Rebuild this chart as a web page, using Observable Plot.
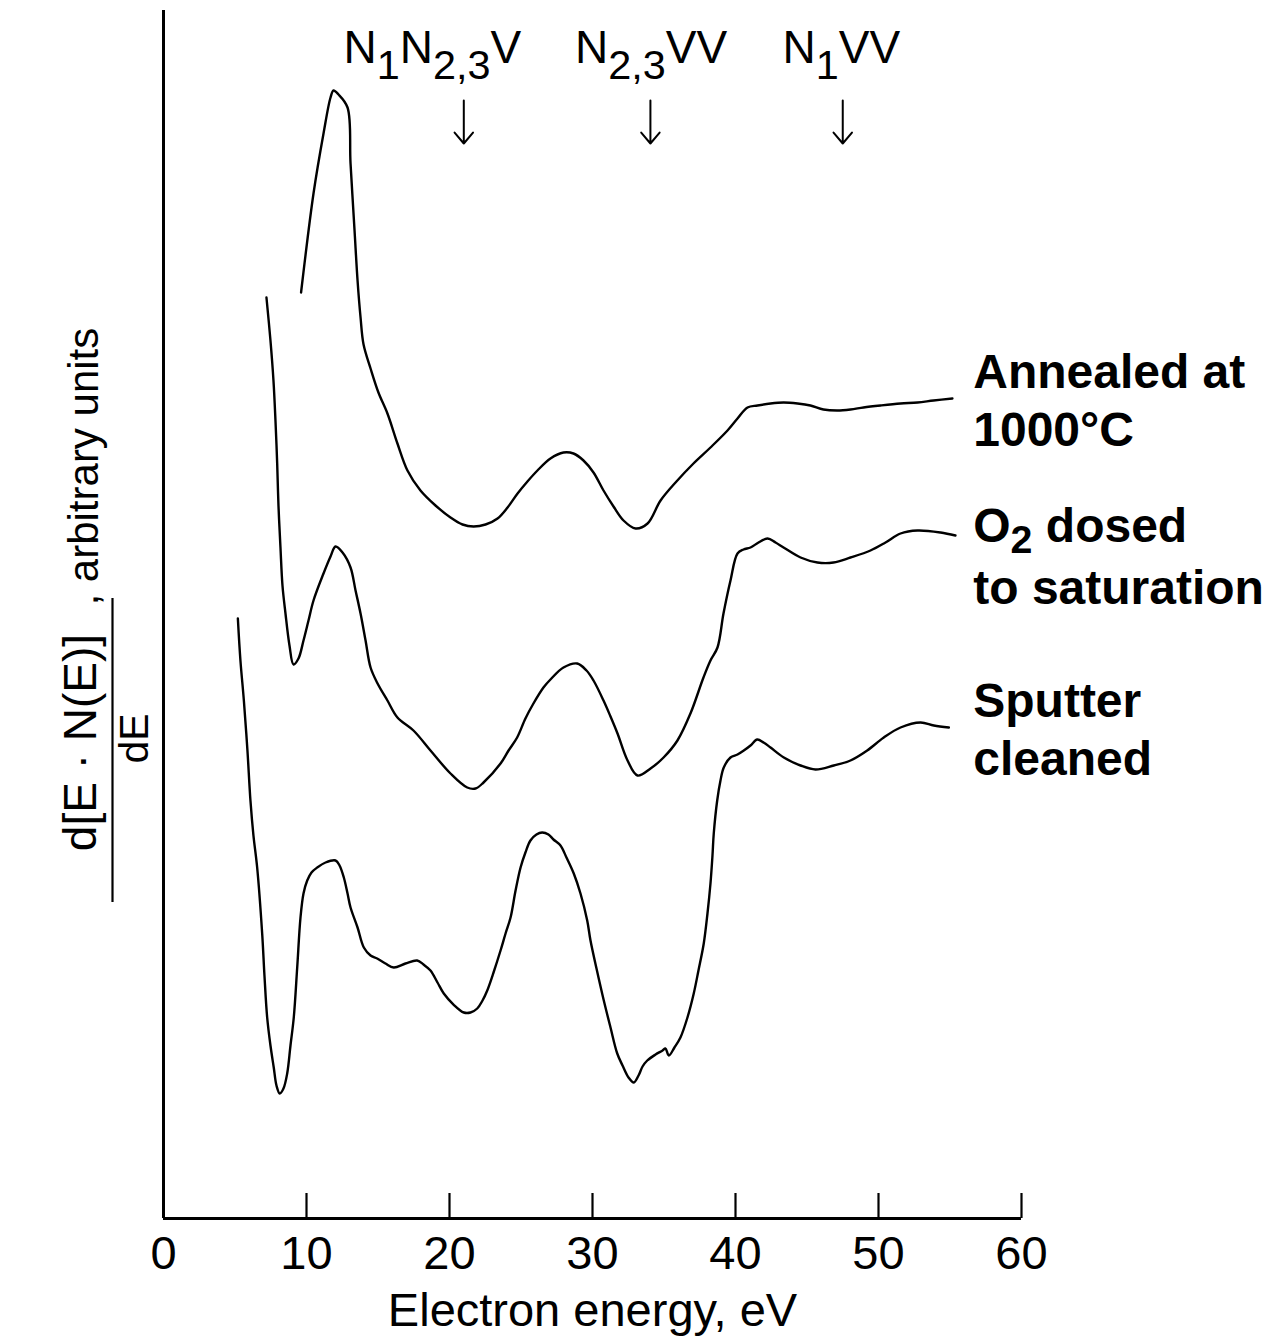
<!DOCTYPE html>
<html>
<head>
<meta charset="utf-8">
<script src="https://cdn.jsdelivr.net/npm/d3@7"></script>
<script src="https://cdn.jsdelivr.net/npm/@observablehq/plot@0.6"></script>
<style>
  html, body { margin: 0; padding: 0; background: #fff; }
  #chart svg { display: block; }
</style>
</head>
<body>
<div id="chart"></div>
<script>
// ---------- data ----------
const xTicks = [0, 10, 20, 30, 40, 50, 60];

// Annealed at 1000°C (top curve)
const annealedEnergy = [9.62, 10.49, 11.19, 11.68, 11.89, 12.24, 12.87, 13.08, 13.36, 13.57, 13.78, 13.99, 14.48, 15.03, 15.66, 16.36, 17.06, 17.97, 19.02, 20.07, 20.91, 21.68, 22.52, 23.36, 24.06, 24.76, 25.45, 26.15, 27.06, 27.97, 28.67, 29.37, 30.07, 30.77, 31.47, 32.17, 33.01, 33.85, 34.76, 35.87, 37.06, 38.25, 39.44, 40.14, 40.84, 41.54, 42.45, 43.36, 44.34, 45.24, 46.15, 47.13, 48.04, 48.95, 50.14, 51.54, 52.73, 53.85, 55.17];
const annealedSignal = [92.6, 102.5, 108.5, 112.1, 112.8, 112.4, 111.1, 105.5, 98.8, 93.8, 90.1, 87.4, 85.0, 82.6, 80.5, 77.5, 74.8, 72.8, 71.3, 70.1, 69.4, 69.2, 69.4, 70.0, 71.1, 72.5, 73.7, 74.8, 76.0, 76.6, 76.5, 75.8, 74.6, 72.8, 71.2, 69.8, 69.0, 69.5, 71.8, 73.7, 75.5, 77.1, 78.8, 80.0, 81.1, 81.3, 81.5, 81.6, 81.5, 81.3, 80.9, 80.8, 80.9, 81.1, 81.3, 81.5, 81.6, 81.8, 82.0];

// O2 dosed to saturation (middle curve)
const dosedEnergy = [7.20, 7.48, 7.69, 7.83, 7.95, 8.04, 8.18, 8.32, 8.53, 8.81, 9.09, 9.44, 9.79, 10.14, 10.49, 11.19, 11.68, 12.03, 12.52, 13.08, 13.43, 13.78, 14.13, 14.48, 14.97, 15.66, 16.36, 17.48, 18.67, 20.07, 21.24, 21.82, 22.38, 23.57, 24.13, 24.73, 25.31, 25.87, 26.57, 27.06, 27.97, 28.93, 29.58, 30.07, 30.77, 31.26, 31.75, 32.45, 33.15, 34.06, 34.97, 35.94, 36.85, 37.76, 38.25, 38.74, 39.16, 39.65, 40.14, 40.56, 41.05, 41.61, 42.24, 42.80, 43.36, 44.55, 45.73, 46.85, 48.04, 49.44, 50.49, 51.54, 52.73, 54.34, 55.38];
const dosedSignal = [92.1, 87.8, 83.8, 79.8, 75.5, 71.3, 67.1, 63.3, 60.5, 57.3, 55.4, 56.0, 57.8, 59.8, 61.8, 64.5, 66.2, 67.2, 66.6, 65.1, 62.8, 60.5, 57.8, 55.1, 53.5, 51.8, 50.1, 48.8, 46.8, 44.5, 43.1, 43.0, 43.6, 45.5, 46.8, 48.1, 50.0, 51.5, 53.1, 53.9, 55.1, 55.5, 54.8, 53.8, 51.8, 50.2, 48.5, 45.8, 44.3, 45.0, 46.1, 47.8, 50.5, 54.1, 55.8, 57.1, 60.5, 63.8, 66.5, 66.9, 67.1, 67.6, 68.0, 67.6, 67.1, 66.1, 65.6, 65.6, 66.1, 66.8, 67.6, 68.5, 68.8, 68.6, 68.3];

// Sputter cleaned (bottom curve)
const sputterEnergy = [5.20, 5.38, 5.62, 5.87, 6.08, 6.29, 6.55, 6.90, 7.06, 7.25, 7.48, 7.71, 7.90, 8.13, 8.39, 8.65, 8.88, 9.11, 9.35, 9.58, 9.79, 10.05, 10.35, 10.75, 11.33, 12.03, 12.31, 12.61, 12.87, 13.08, 13.57, 14.01, 14.48, 14.94, 15.52, 16.10, 16.92, 17.74, 18.18, 18.67, 19.16, 19.60, 20.28, 21.00, 21.47, 21.94, 22.31, 22.64, 23.08, 23.57, 23.92, 24.27, 24.62, 24.97, 25.31, 25.66, 26.08, 26.48, 26.92, 27.27, 27.76, 28.18, 28.69, 29.16, 29.63, 29.86, 30.28, 30.79, 31.26, 31.73, 32.10, 32.52, 32.89, 33.22, 33.50, 33.83, 34.41, 34.90, 35.10, 35.34, 35.73, 36.15, 36.64, 37.08, 37.41, 37.78, 38.04, 38.25, 38.39, 38.48, 38.72, 38.95, 39.18, 39.65, 40.14, 40.58, 41.05, 41.52, 41.96, 42.45, 43.38, 44.55, 45.59, 46.87, 48.04, 49.21, 50.37, 51.54, 52.94, 53.87, 54.92];
const sputterSignal = [60.0, 55.8, 51.8, 46.8, 41.8, 38.3, 35.1, 28.5, 24.3, 20.1, 17.3, 15.1, 13.3, 12.5, 13.0, 14.5, 17.3, 20.1, 25.1, 30.1, 32.5, 33.8, 34.6, 35.1, 35.6, 35.8, 35.3, 34.1, 32.5, 31.1, 29.1, 27.1, 26.3, 26.0, 25.5, 25.1, 25.5, 25.8, 25.4, 24.8, 23.6, 22.5, 21.4, 20.6, 20.6, 21.0, 21.8, 22.8, 24.6, 26.8, 28.5, 30.1, 32.8, 35.1, 36.6, 37.8, 38.4, 38.6, 38.4, 37.9, 37.3, 36.1, 34.5, 32.5, 29.8, 27.8, 25.0, 21.8, 19.1, 16.5, 15.3, 14.1, 13.6, 14.3, 15.2, 15.8, 16.4, 16.8, 17.0, 16.3, 17.1, 18.1, 20.1, 22.5, 24.8, 27.5, 30.5, 33.5, 36.3, 38.5, 41.8, 43.8, 45.1, 46.1, 46.4, 46.8, 47.3, 47.9, 47.6, 47.1, 46.1, 45.3, 44.9, 45.3, 45.8, 46.8, 48.1, 49.1, 49.6, 49.3, 49.1];

const seriesNames = ["Annealed at\n1000°C", "O_2 dosed\nto saturation", "Sputter\ncleaned"];

// Auger transition markers
const transitionLabels = ["N_1N_{2,3}V", "N_{2,3}VV", "N_1VV"];
const transitionLabelEnergy = [18.8, 34.1, 47.4];
const transitionArrowEnergy = [21.0, 34.05, 47.5];

const xLabel = "Electron energy, eV";
const yLabelNumerator = "d[E · N(E)]";
const yLabelDenominator = "dE";
const yLabelSuffix = ", arbitrary units";

// ---------- build tables ----------
const energies = [annealedEnergy, dosedEnergy, sputterEnergy];
const signals = [annealedSignal, dosedSignal, sputterSignal];
const rows = [];
seriesNames.forEach((name, k) => {
  energies[k].forEach((e, i) => rows.push({series: name, e, v: signals[k][i]}));
});
const lastE = energies.map(a => a[a.length - 1]);
const labelE = d3.mean(lastE);
const ends = seriesNames.map((name, k) => ({
  series: name,
  e: labelE,
  v: signals[k][signals[k].length - 1]
}));
const labelRows = transitionLabels.map((label, i) => ({label, e: transitionLabelEnergy[i]}));
const arrowRows = transitionArrowEnergy.map(e => ({e}));

// ---------- layout ----------
const W = 1273, H = 1338;
const mL = 163, mR = 252, mT = 10, mB = 120;
const frameH = H - mT - mB;
const yTop = 120.8;
const font = "'Liberation Sans', Arial, Helvetica, sans-serif";

const chart = Plot.plot({
  width: W,
  height: H,
  marginLeft: mL,
  marginRight: mR,
  marginTop: mT,
  marginBottom: mB,
  x: {domain: [0, 60], label: null},
  y: {domain: [0, yTop], axis: null},
  style: {fontFamily: font, background: "#fff", color: "#000", overflow: "visible"},
  marks: [
    // axes lines
    Plot.ruleX([0], {stroke: "#000", strokeWidth: 3}),
    Plot.ruleY([0], {stroke: "#000", strokeWidth: 3}),
    // inward ticks
    Plot.tickX(xTicks.filter(d => d > 0), {x: d => d, insetTop: frameH - 25, stroke: "#000", strokeWidth: 2.2}),
    Plot.axisX(xTicks, {tickSize: 0, tickPadding: 17, fontSize: 47, label: null, fill: "#000"}),
    Plot.text([xLabel], {text: d => d, frameAnchor: "bottom", lineAnchor: "top", dy: 74, fontSize: 47, fill: "#000"}),

    // y label (rotated fraction)
    Plot.text([yLabelNumerator], {text: d => d, frameAnchor: "left", rotate: -90, textAnchor: "middle", lineAnchor: "bottom", dx: 95 - mL, dy: 128, fontSize: 46, fill: "#000"}),
    Plot.ruleX([0], {y1: 62.0, y2: 31.6, dx: 112 - mL, stroke: "#000", strokeWidth: 2.2}),
    Plot.text([yLabelDenominator], {text: d => d, frameAnchor: "left", rotate: -90, textAnchor: "middle", lineAnchor: "bottom", dx: 147 - mL, dy: 124, fontSize: 41, fill: "#000"}),
    Plot.text([yLabelSuffix], {text: d => d, frameAnchor: "left", rotate: -90, textAnchor: "start", lineAnchor: "bottom", dx: 97 - mL, dy: -9, fontSize: 42, fill: "#000"}),

    // spectra
    Plot.line(rows, {x: "e", y: "v", z: "series", stroke: "#000", strokeWidth: 2.4, strokeLinejoin: "round", curve: "catmull-rom"}),

    // series labels
    Plot.text(ends.filter(d => !d.series.startsWith("O_")), {x: "e", y: "v", text: "series", dx: 21, textAnchor: "start", lineAnchor: "middle", lineHeight: 1.21, fontSize: 48, fontWeight: "bold", fill: "#000"}),
    Plot.text(ends.filter(d => d.series.startsWith("O_")), {x: "e", y: "v", text: "series", dx: 21, dy: 18, textAnchor: "start", lineAnchor: "middle", lineHeight: 1.28, fontSize: 48, fontWeight: "bold", fill: "#000"}),

    // transition labels and arrows
    Plot.text(labelRows, {x: "e", text: "label", frameAnchor: "top", lineAnchor: "bottom", dy: 52, textAnchor: "middle", fontSize: 46, fill: "#000"}),
    Plot.arrow(arrowRows, {x1: "e", x2: "e", y1: yTop - 9.0, y2: yTop - 13.3, stroke: "#000", strokeWidth: 2, headAngle: 80, headLength: 12})
  ]
});

// subscripts: "_x" or "_{xy}"
function appendPiece(node, str, sub, state) {
  const t = document.createElementNS("http://www.w3.org/2000/svg", "tspan");
  t.textContent = str;
  if (sub) {
    t.setAttribute("font-size", state.subSize + "em");
    if (!state.sub) { t.setAttribute("dy", (state.shift / state.subSize).toFixed(3) + "em"); state.sub = true; }
  } else if (state.sub) {
    t.setAttribute("dy", (-state.shift).toFixed(3) + "em");
    state.sub = false;
  }
  node.appendChild(t);
}
chart.querySelectorAll("text, tspan").forEach(node => {
  if (node.children.length) return;
  const s = node.textContent;
  if (!s || !s.includes("_")) return;
  const bold = node.closest("g") && node.closest("g").getAttribute("font-weight") === "bold";
  node.textContent = "";
  const state = bold ? {sub: false, subSize: 0.82, shift: 0.22} : {sub: false, subSize: 0.9, shift: 0.35};
  const re = /_(\{([^}]*)\}|(.))/g;
  let last = 0, m;
  while ((m = re.exec(s))) {
    if (m.index > last) appendPiece(node, s.slice(last, m.index), false, state);
    appendPiece(node, m[2] !== undefined ? m[2] : m[3], true, state);
    last = re.lastIndex;
  }
  if (last < s.length) appendPiece(node, s.slice(last), false, state);
  else if (state.sub) appendPiece(node, "", false, state);
});

document.getElementById("chart").appendChild(chart);
</script>
</body>
</html>
